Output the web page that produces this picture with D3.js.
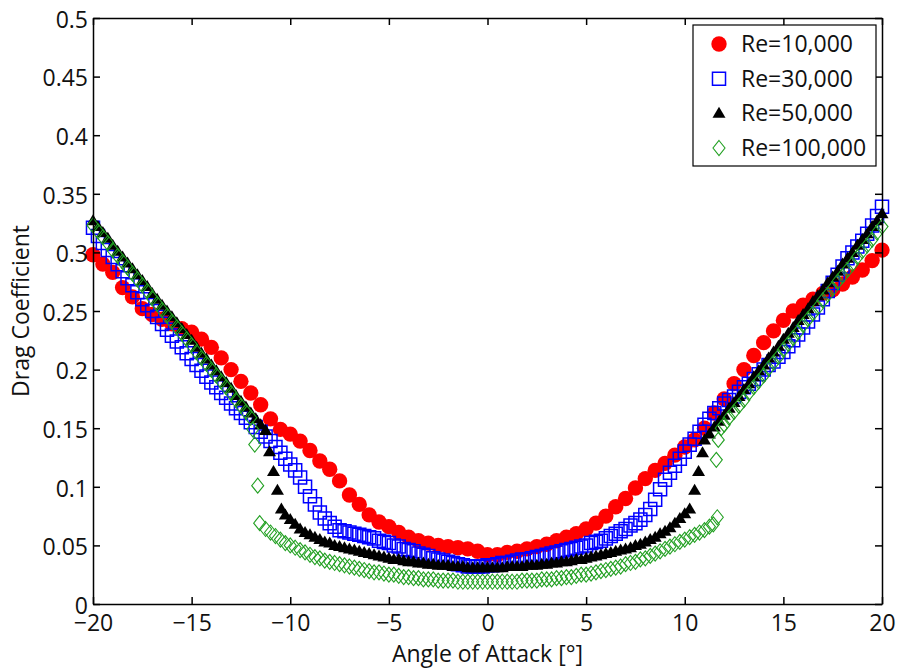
<!DOCTYPE html>
<html>
<head>
<meta charset="utf-8">
<script src="https://cdn.jsdelivr.net/npm/d3@7"></script>
<style>
  body { margin: 0; background: #fff; }
  svg { display: block; font-family: "Open Sans", sans-serif; }
</style>
</head>
<body>
<svg width="899" height="669"></svg>
<script>
// --- chart data ---
const xTicks = [-20, -15, -10, -5, 0, 5, 10, 15, 20];
const yTicks = [0, 0.05, 0.1, 0.15, 0.2, 0.25, 0.3, 0.35, 0.4, 0.45, 0.5];
const yTickLabels = ["0", "0.05", "0.1", "0.15", "0.2", "0.25", "0.3", "0.35", "0.4", "0.45", "0.5"];
const seriesNames = ["Re=10,000", "Re=30,000", "Re=50,000", "Re=100,000"];
const xLabel = "Angle of Attack [\u00b0]";
const yLabel = "Drag Coefficient";

// [angle, Cd]
const re10k = [
  [-20,0.298],[-19.5,0.290],[-19,0.283],[-18.5,0.270],[-18,0.262],[-17.5,0.252],[-17,0.247],[-16.5,0.243],
  [-16,0.239],[-15.5,0.235],[-15,0.232],[-14.5,0.226],[-14,0.219],[-13.5,0.210],[-13,0.200],[-12.5,0.190],
  [-12,0.180],[-11.5,0.170],[-11,0.158],[-10.5,0.149],[-10,0.145],[-9.5,0.139],[-9,0.131],[-8.5,0.122],
  [-8,0.115],[-7.5,0.105],[-7,0.093],[-6.5,0.085],[-6,0.076],[-5.5,0.070],[-5,0.066],[-4.5,0.061],
  [-4,0.057],[-3.5,0.054],[-3,0.052],[-2.5,0.050],[-2,0.049],[-1.5,0.048],[-1,0.047],[-0.5,0.045],
  [0,0.042],[0.5,0.042],[1,0.044],[1.5,0.045],[2,0.047],[2.5,0.049],[3,0.051],[3.5,0.054],
  [4,0.057],[4.5,0.060],[5,0.064],[5.5,0.069],[6,0.075],[6.5,0.083],[7,0.090],[7.5,0.099],
  [8,0.107],[8.5,0.114],[9,0.120],[9.5,0.127],[10,0.134],[10.5,0.140],[11,0.150],[11.5,0.163],
  [12,0.175],[12.5,0.188],[13,0.200],[13.5,0.212],[14,0.223],[14.5,0.233],[15,0.242],[15.5,0.250],
  [16,0.255],[16.5,0.260],[17,0.265],[17.5,0.268],[18,0.273],[18.5,0.279],[19,0.285],[19.5,0.293],[20,0.302]
];

const re30k = [
  [-20,0.321],[-19.75,0.314],[-19.5,0.308],[-19.25,0.302],[-19,0.296],[-18.75,0.290],[-18.5,0.284],[-18.25,0.278],
  [-18,0.272],[-17.75,0.266],[-17.5,0.260],[-17.25,0.255],[-17,0.250],[-16.75,0.245],[-16.5,0.239],[-16.25,0.234],
  [-16,0.229],[-15.75,0.224],[-15.5,0.219],[-15.25,0.214],[-15,0.209],[-14.75,0.204],[-14.5,0.199],[-14.25,0.194],
  [-14,0.189],[-13.75,0.185],[-13.5,0.180],[-13.25,0.176],[-13,0.171],[-12.75,0.167],[-12.5,0.163],[-12.25,0.159],
  [-12,0.155],[-11.75,0.151],[-11.5,0.147],[-11.25,0.143],[-11,0.139],[-10.75,0.134],[-10.5,0.129],[-10.25,0.124],
  [-10,0.119],[-9.75,0.114],[-9.5,0.108],[-9.25,0.100],[-9,0.092],[-8.75,0.085],[-8.5,0.078],[-8.25,0.073],
  [-8,0.069],[-7.75,0.066],[-7.5,0.063],[-7.25,0.062],[-7,0.061],[-6.75,0.060],[-6.5,0.059],[-6.25,0.058],
  [-6,0.057],[-5.75,0.056],[-5.5,0.054],[-5.25,0.053],[-5,0.052],[-4.75,0.050],[-4.5,0.049],[-4.25,0.047],
  [-4,0.046],[-3.75,0.045],[-3.5,0.043],[-3.25,0.042],[-3,0.041],[-2.75,0.039],[-2.5,0.038],[-2.25,0.037],
  [-2,0.036],[-1.75,0.035],[-1.5,0.034],[-1.25,0.033],[-1,0.032],[-0.75,0.032],[-0.5,0.032],[-0.25,0.032],
  [0,0.033],[0.25,0.033],[0.5,0.034],[0.75,0.035],[1,0.035],[1.25,0.036],[1.5,0.037],[1.75,0.038],
  [2,0.038],[2.25,0.039],[2.5,0.040],[2.75,0.041],[3,0.042],[3.25,0.043],[3.5,0.044],[3.75,0.045],
  [4,0.046],[4.25,0.047],[4.5,0.048],[4.75,0.049],[5,0.050],[5.25,0.052],[5.5,0.053],[5.75,0.054],
  [6,0.056],[6.25,0.058],[6.5,0.060],[6.75,0.062],[7,0.064],[7.25,0.067],[7.5,0.069],[7.75,0.072],
  [8,0.076],[8.25,0.081],[8.5,0.089],[8.75,0.098],[9,0.106],[9.25,0.112],[9.5,0.118],[9.75,0.124],
  [10,0.130],[10.25,0.136],[10.5,0.141],[10.75,0.147],[11,0.153],[11.25,0.158],[11.5,0.163],[11.75,0.167],
  [12,0.171],[12.25,0.174],[12.5,0.177],[12.75,0.181],[13,0.185],[13.25,0.188],[13.5,0.192],[13.75,0.196],
  [14,0.200],[14.25,0.204],[14.5,0.207],[14.75,0.211],[15,0.215],[15.25,0.220],[15.5,0.225],[15.75,0.230],
  [16,0.236],[16.25,0.241],[16.5,0.247],[16.75,0.253],[17,0.260],[17.25,0.267],[17.5,0.274],[17.75,0.281],
  [18,0.288],[18.25,0.295],[18.5,0.300],[18.75,0.305],[19,0.310],[19.25,0.316],[19.5,0.323],[19.75,0.331],[20,0.339]
];

const re50k = [
  [-20,0.327],[-19.75,0.322],[-19.5,0.317],[-19.25,0.312],[-19,0.306],[-18.75,0.301],[-18.5,0.296],[-18.25,0.291],
  [-18,0.286],[-17.75,0.281],[-17.5,0.276],[-17.25,0.271],[-17,0.265],[-16.75,0.260],[-16.5,0.255],[-16.25,0.250],
  [-16,0.245],[-15.75,0.240],[-15.5,0.235],[-15.25,0.230],[-15,0.225],[-14.75,0.219],[-14.5,0.214],[-14.25,0.209],
  [-14,0.204],[-13.75,0.199],[-13.5,0.194],[-13.25,0.189],[-13,0.184],[-12.75,0.178],[-12.5,0.173],[-12.25,0.168],
  [-12,0.163],[-11.75,0.158],[-11.5,0.153],[-11.25,0.148],
  [-11.05,0.130],[-10.85,0.113],[-10.65,0.097],[-10.45,0.081],
  [-10.25,0.076],[-10,0.072],[-9.75,0.068],[-9.5,0.064],[-9.25,0.061],[-9,0.059],[-8.75,0.057],[-8.5,0.055],
  [-8.25,0.053],[-8,0.052],[-7.75,0.050],[-7.5,0.049],[-7.25,0.048],[-7,0.047],[-6.75,0.046],[-6.5,0.045],
  [-6.25,0.044],[-6,0.043],[-5.75,0.042],[-5.5,0.041],[-5.25,0.040],[-5,0.039],[-4.75,0.038],[-4.5,0.038],
  [-4.25,0.037],[-4,0.036],[-3.75,0.036],[-3.5,0.035],[-3.25,0.035],[-3,0.034],[-2.75,0.034],[-2.5,0.033],
  [-2.25,0.033],[-2,0.033],[-1.75,0.032],[-1.5,0.032],[-1.25,0.032],[-1,0.031],[-0.75,0.031],[-0.5,0.031],
  [-0.25,0.031],[0,0.031],[0.25,0.031],[0.5,0.031],[0.75,0.031],[1,0.032],[1.25,0.032],[1.5,0.032],
  [1.75,0.032],[2,0.033],[2.25,0.033],[2.5,0.033],[2.75,0.034],[3,0.034],[3.25,0.035],[3.5,0.035],
  [3.75,0.036],[4,0.036],[4.25,0.037],[4.5,0.038],[4.75,0.038],[5,0.039],[5.25,0.040],[5.5,0.041],
  [5.75,0.042],[6,0.043],[6.25,0.044],[6.5,0.045],[6.75,0.046],[7,0.047],[7.25,0.048],[7.5,0.050],
  [7.75,0.051],[8,0.053],[8.25,0.055],[8.5,0.057],[8.75,0.060],[9,0.062],[9.25,0.065],[9.5,0.069],
  [9.75,0.073],[10,0.077],[10.25,0.081],
  [10.5,0.097],[10.7,0.113],[10.9,0.129],
  [11,0.140],[11.25,0.145],[11.5,0.151],[11.75,0.156],[12,0.161],[12.25,0.167],[12.5,0.172],[12.75,0.177],
  [13,0.183],[13.25,0.188],[13.5,0.194],[13.75,0.199],[14,0.204],[14.25,0.210],[14.5,0.215],[14.75,0.220],
  [15,0.226],[15.25,0.231],[15.5,0.236],[15.75,0.242],[16,0.247],[16.25,0.252],[16.5,0.258],[16.75,0.263],
  [17,0.268],[17.25,0.274],[17.5,0.279],[17.75,0.284],[18,0.290],[18.25,0.295],[18.5,0.300],[18.75,0.306],
  [19,0.311],[19.25,0.316],[19.5,0.322],[19.75,0.327],[20,0.333]
];

const re100k = [
  [-20,0.323],[-19.75,0.318],[-19.5,0.313],[-19.25,0.308],[-19,0.302],[-18.75,0.297],[-18.5,0.292],[-18.25,0.287],
  [-18,0.282],[-17.75,0.277],[-17.5,0.272],[-17.25,0.267],[-17,0.261],[-16.75,0.256],[-16.5,0.251],[-16.25,0.246],
  [-16,0.241],[-15.75,0.236],[-15.5,0.231],[-15.25,0.226],[-15,0.221],[-14.75,0.215],[-14.5,0.210],[-14.25,0.205],
  [-14,0.200],[-13.75,0.195],[-13.5,0.190],[-13.25,0.185],[-13,0.180],[-12.75,0.174],[-12.5,0.169],[-12.25,0.164],
  [-12,0.159],[-11.9,0.149],
  [-11.8,0.136],[-11.65,0.101],
  [-11.55,0.069],[-11.25,0.064],[-11,0.061],[-10.75,0.058],[-10.5,0.055],[-10.25,0.052],[-10,0.050],[-9.75,0.048],
  [-9.5,0.046],[-9.25,0.044],[-9,0.042],[-8.75,0.040],[-8.5,0.039],[-8.25,0.037],[-8,0.036],[-7.75,0.035],
  [-7.5,0.034],[-7.25,0.033],[-7,0.032],[-6.75,0.031],[-6.5,0.030],[-6.25,0.029],[-6,0.028],[-5.75,0.027],
  [-5.5,0.027],[-5.25,0.026],[-5,0.025],[-4.75,0.025],[-4.5,0.024],[-4.25,0.023],[-4,0.023],[-3.75,0.022],
  [-3.5,0.022],[-3.25,0.021],[-3,0.021],[-2.75,0.021],[-2.5,0.020],[-2.25,0.020],[-2,0.020],[-1.75,0.020],
  [-1.5,0.019],[-1.25,0.019],[-1,0.019],[-0.75,0.019],[-0.5,0.019],[-0.25,0.019],[0,0.019],[0.25,0.019],
  [0.5,0.019],[0.75,0.019],[1,0.019],[1.25,0.019],[1.5,0.019],[1.75,0.020],[2,0.020],[2.25,0.020],
  [2.5,0.020],[2.75,0.021],[3,0.021],[3.25,0.021],[3.5,0.022],[3.75,0.022],[4,0.023],[4.25,0.023],
  [4.5,0.024],[4.75,0.025],[5,0.025],[5.25,0.026],[5.5,0.027],[5.75,0.028],[6,0.029],[6.25,0.030],
  [6.5,0.031],[6.75,0.032],[7,0.034],[7.25,0.035],[7.5,0.036],[7.75,0.038],[8,0.039],[8.25,0.041],
  [8.5,0.043],[8.75,0.045],[9,0.047],[9.25,0.049],[9.5,0.051],[9.75,0.053],[10,0.055],[10.25,0.057],
  [10.5,0.059],[10.75,0.061],[11,0.063],[11.25,0.066],[11.45,0.068],[11.65,0.074],
  [11.6,0.123],[11.7,0.140],
  [11.85,0.150],[12,0.153],[12.25,0.159],[12.5,0.164],[12.75,0.169],[13,0.174],[13.25,0.180],[13.5,0.185],
  [13.75,0.190],[14,0.195],[14.25,0.201],[14.5,0.206],[14.75,0.211],[15,0.217],[15.25,0.222],[15.5,0.227],
  [15.75,0.232],[16,0.238],[16.25,0.243],[16.5,0.248],[16.75,0.253],[17,0.259],[17.25,0.264],[17.5,0.269],
  [17.75,0.275],[18,0.280],[18.25,0.285],[18.5,0.290],[18.75,0.296],[19,0.301],[19.25,0.306],[19.5,0.311],
  [19.75,0.317],[20,0.322]
];

// --- layout ---
const svg = d3.select("svg");
const W = 899, H = 669;
const margin = { top: 18, right: 17, bottom: 65, left: 93 };
const plotW = W - margin.left - margin.right;
const plotH = H - margin.top - margin.bottom;

const x = d3.scaleLinear().domain([-20, 20]).range([0, plotW]);
const y = d3.scaleLinear().domain([0, 0.5]).range([plotH, 0]);

const g = svg.append("g").attr("transform", `translate(${margin.left},${margin.top})`);

// marker shapes
const shapes = {
  circle: d3.symbol(d3.symbolCircle, 185)(),
  square: d3.symbol(d3.symbolSquare, 170)(),
  triangle: "M0,-6.5L6.5,4.5L-6.5,4.5Z",
  diamond: "M0,-7.5L6,0L0,7.5L-6,0Z"
};

const series = [
  { name: seriesNames[0], data: re10k, shape: "circle", fill: "#ff0000", stroke: "none", sw: 0 },
  { name: seriesNames[1], data: re30k, shape: "square", fill: "none", stroke: "#0000ff", sw: 1.5 },
  { name: seriesNames[2], data: re50k, shape: "triangle", fill: "#000000", stroke: "none", sw: 0 },
  { name: seriesNames[3], data: re100k, shape: "diamond", fill: "none", stroke: "#22a022", sw: 1.1 }
];

// --- markers ---
series.forEach(s => {
  g.append("g")
    .selectAll("path")
    .data(s.data)
    .join("path")
    .attr("d", shapes[s.shape])
    .attr("transform", d => `translate(${x(d[0])},${y(d[1])})`)
    .attr("fill", s.fill)
    .attr("stroke", s.stroke)
    .attr("stroke-width", s.sw);
});

// --- axes (ticks inward, box all round) ---
const tickLen = 7;
const fontSize = 23;

const axisBottom = d3.axisBottom(x).tickValues(xTicks).tickSizeInner(-tickLen).tickSizeOuter(0).tickPadding(10.5);
const axisTop = d3.axisTop(x).tickValues(xTicks).tickSizeInner(-tickLen).tickSizeOuter(0).tickFormat("");
const axisLeft = d3.axisLeft(y).tickValues(yTicks).tickSizeInner(-tickLen).tickSizeOuter(0).tickPadding(5)
  .tickFormat((d, i) => yTickLabels[i]);
const axisRight = d3.axisRight(y).tickValues(yTicks).tickSizeInner(-tickLen).tickSizeOuter(0).tickFormat("");

g.append("g").attr("transform", `translate(0,${plotH})`).call(axisBottom);
g.append("g").call(axisTop);
g.append("g").attr("class", "y-left").call(axisLeft);
g.append("g").attr("transform", `translate(${plotW},0)`).call(axisRight);

g.selectAll(".domain").attr("stroke", "#000").attr("stroke-width", 1.5);
g.selectAll(".tick line").attr("stroke", "#000").attr("stroke-width", 1.5);
g.selectAll(".tick text")
  .attr("fill", "#111")
  .style("font-family", '"Open Sans", sans-serif')
  .style("font-size", fontSize + "px");
g.selectAll(".y-left .tick text").attr("dy", "0.4em");

// axis titles
svg.append("text")
  .attr("x", margin.left + plotW / 2)
  .attr("y", 662)
  .attr("text-anchor", "middle")
  .style("font-size", fontSize + "px")
  .attr("fill", "#111")
  .text(xLabel);

svg.append("text")
  .attr("transform", `translate(29,${margin.top + plotH / 2}) rotate(-90)`)
  .attr("text-anchor", "middle")
  .style("font-size", fontSize + "px")
  .attr("fill", "#111")
  .text(yLabel);

// --- legend ---
const legend = svg.append("g").attr("transform", "translate(693,25)");
legend.append("rect")
  .attr("width", 183).attr("height", 141)
  .attr("fill", "#fff").attr("stroke", "#000").attr("stroke-width", 1.2);

const rowY = d3.scalePoint().domain(seriesNames).range([19, 123]);
series.forEach(s => {
  const row = legend.append("g").attr("transform", `translate(0,${rowY(s.name)})`);
  row.append("path")
    .attr("d", shapes[s.shape])
    .attr("transform", "translate(26,0)")
    .attr("fill", s.fill)
    .attr("stroke", s.stroke)
    .attr("stroke-width", s.sw);
  row.append("text")
    .attr("x", 48)
    .attr("dy", "0.35em")
    .style("font-size", fontSize + "px")
    .attr("fill", "#111")
    .text(s.name);
});
</script>
</body>
</html>
